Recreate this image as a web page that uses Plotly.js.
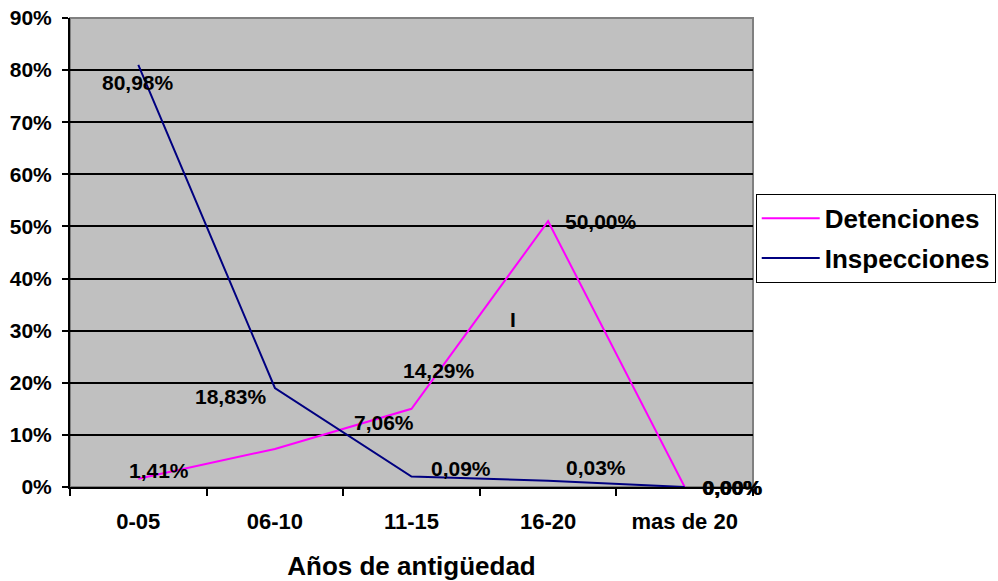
<!DOCTYPE html>
<html>
<head>
<meta charset="utf-8">
<script src="https://cdn.plot.ly/plotly-3.0.1.min.js"></script>
<style>
  html, body { margin: 0; padding: 0; background: #ffffff; }
  #chart { width: 998px; height: 581px; }
</style>
</head>
<body>
<div id="chart"></div>
<script>
// ---- data ----
const categories = ['0-05', '06-10', '11-15', '16-20', 'mas de 20'];
const detenciones = [1.6, 7.3, 15.0, 51.0, 0.0];
const inspecciones = [81.0, 19.0, 2.0, 1.2, 0.0];
const detencionesLabels = ['1,41%', '7,06%', '14,29%', 'I', '50,00%', '0,00%'];
const inspeccionesLabels = ['80,98%', '18,83%', '0,09%', '0,03%', '0,00%'];
const yTickValues = [0, 10, 20, 30, 40, 50, 60, 70, 80, 90];
const yTickText = yTickValues.map(v => v + '%');

// label placements (category index, y in %) — manual positions as in the original chart
const detLabelPos = [[0.15, 3.1], [1.80, 12.3], [2.20, 22.3], [2.74, 32.1], [3.39, 51.0], [4.355, 0.0]];
const insLabelPos = [[0.0, 77.7], [0.68, 17.3], [2.36, 3.6], [3.35, 3.8], [4.345, 0.0]];

const FONT = 'Liberation Sans, Arial, sans-serif';

const traces = [
  {
    x: categories, y: detenciones, type: 'scatter', mode: 'lines',
    name: 'Detenciones', legendgroup: 'a',
    line: { color: '#FF00FF', width: 2 }
  },
  {
    x: categories, y: inspecciones, type: 'scatter', mode: 'lines',
    name: 'Inspecciones', legendgroup: 'b',
    line: { color: '#000080', width: 2 }
  }
];

function mkAnn(text, pos) {
  return {
    x: pos[0], y: pos[1], xref: 'x', yref: 'y', text: text,
    showarrow: false, xanchor: 'center', yanchor: 'middle',
    font: { family: FONT, size: 21, color: '#000000', weight: 'bold' }
  };
}
const annotations = [];
detencionesLabels.forEach((t, i) => annotations.push(mkAnn(t, detLabelPos[i])));
inspeccionesLabels.forEach((t, i) => annotations.push(mkAnn(t, insLabelPos[i])));

const layout = {
  width: 998, height: 581,
  margin: { l: 70, r: 245, t: 18, b: 94, autoexpand: false },
  paper_bgcolor: '#ffffff',
  plot_bgcolor: '#C0C0C0',
  font: { family: FONT, size: 21, color: '#000000', weight: 'bold' },
  showlegend: true,
  legend: {
    x: 1.004, y: 0.625, xanchor: 'left', yanchor: 'top',
    bordercolor: '#000000', borderwidth: 1, bgcolor: '#ffffff',
    font: { family: FONT, size: 26, color: '#000000', weight: 'bold' },
    traceorder: 'grouped', tracegroupgap: 3, itemwidth: 58
  },
  xaxis: {
    type: 'category', range: [-0.5, 4.5],
    showline: true, linecolor: '#000000', linewidth: 2,
    showgrid: false, zeroline: false,
    ticks: 'outside', tickson: 'boundaries', ticklen: 7, tickwidth: 2, tickcolor: '#000000',
    ticklabelstandoff: 14,
    tickfont: { family: FONT, size: 22, color: '#000000', weight: 'bold' },
    title: { text: 'Años de antigüedad', standoff: 24,
             font: { family: FONT, size: 26, color: '#000000', weight: 'bold' } }
  },
  yaxis: {
    range: [0, 90], tickmode: 'array', tickvals: yTickValues, ticktext: yTickText,
    showline: true, linecolor: '#000000', linewidth: 2,
    showgrid: true, gridcolor: '#000000', gridwidth: 2, zeroline: false,
    ticks: 'outside', ticklen: 6, tickwidth: 2, tickcolor: '#000000',
    ticklabelstandoff: 6,
    tickfont: { family: FONT, size: 21, color: '#000000', weight: 'bold' }
  },
  shapes: [
    { type: 'rect', xref: 'paper', yref: 'paper', x0: 0, x1: 1, y0: 0, y1: 1,
      line: { color: '#808080', width: 2 }, layer: 'below' }
  ],
  annotations: annotations
};

Plotly.newPlot('chart', traces, layout, { displayModeBar: false, staticPlot: true });
</script>
</body>
</html>
